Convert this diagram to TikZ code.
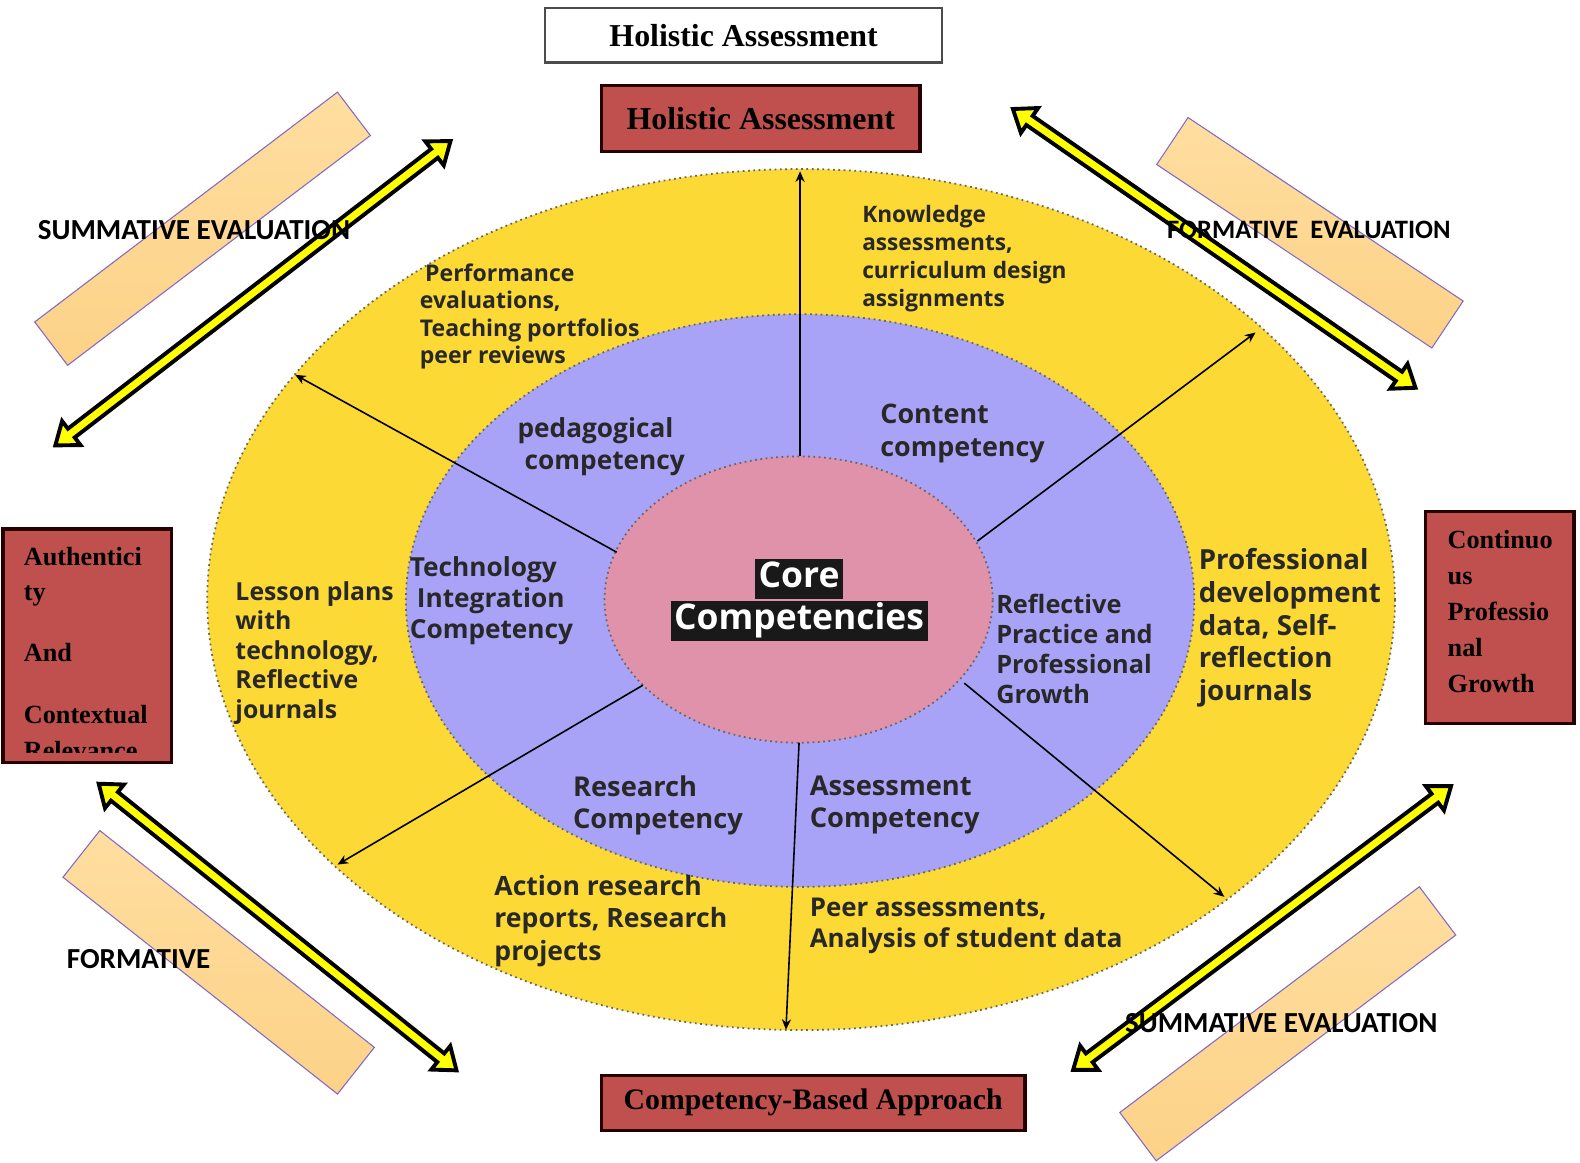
\documentclass[tikz,border=0pt]{standalone}
\usepackage{fontspec}
\setmainfont{Liberation Serif}
\newfontfamily\osans{Open Sans}
\newfontfamily\calib{Carlito}
\usetikzlibrary{shapes.geometric,positioning,arrows.meta}

\definecolor{ringyellow}{RGB}{252,217,52}
\definecolor{ringblue}{RGB}{169,163,248}
\definecolor{ringpink}{RGB}{225,146,171}
\definecolor{boxred}{RGB}{192,80,77}
\definecolor{barlight}{RGB}{255,222,160}
\definecolor{bardark}{RGB}{252,210,135}
\definecolor{barline}{RGB}{130,105,200}
\definecolor{arrowyellow}{RGB}{255,255,0}
\definecolor{inktext}{RGB}{40,40,40}

\tikzset{
  ring/.style={ellipse, inner sep=0pt, draw=black!60, densely dotted, line width=0.5pt},
  redbox/.style={draw=black!85!red, line width=0.9pt, fill=boxred, inner sep=0pt},
  bar/.style={draw=barline, line width=0.3pt, top color=barlight, bottom color=bardark, inner sep=0pt},
  spoke/.style={line width=0.45pt, -{Stealth[length=3pt,width=2.6pt]}},
  ringtext/.style 2 args={anchor=west, align=left, inner sep=0pt, text=inktext,
    font=\osans\bfseries\fontsize{#1}{#2}\selectfont},
  evaltext/.style={inner sep=0pt, font=\calib\bfseries\fontsize{#1}{10}\selectfont},
  boxtext/.style={anchor=north west, align=left, inner sep=0pt, font=\bfseries\fontsize{7.4}{10.1}\selectfont},
  coretext/.style={fill=black!90, text=white, inner xsep=1pt, inner ysep=0.8pt,
    text height=7.4pt, text depth=2.4pt, font=\osans\bfseries\fontsize{10}{12}\selectfont}
}

% Doppelpfeil: Mitte x, Mitte y, Winkel, halbe Laenge
\newcommand{\dblarrow}[4]{%
  \begin{scope}[shift={(#1,#2)}, rotate=#3]
    \draw[line width=1.1pt, fill=arrowyellow, line join=miter]
      (-#4,0) -- (-#4+20,15) -- (-#4+20,5.5) -- (#4-20,5.5) -- (#4-20,15) -- (#4,0)
      -- (#4-20,-15) -- (#4-20,-5.5) -- (-#4+20,-5.5) -- (-#4+20,-15) -- cycle;
  \end{scope}}

\begin{document}
\begin{tikzpicture}[x=0.01cm, y=-0.01cm]
\useasboundingbox (0,0) rectangle (1568,1154);

% Ringe
\node[ring, fill=ringyellow, minimum width=11.78cm, minimum height=8.54cm] (outer) at (795,595) {};
\node[ring, fill=ringblue, minimum width=7.82cm, minimum height=5.68cm] (middle) at (794,596) {};
\node[ring, fill=ringpink, minimum width=3.85cm, minimum height=2.84cm] (inner) at (792.5,595) {};

% Speichen
\foreach \n/\xa/\ya/\xb/\yb in {t/794/453/794/170, ul/612/548/293/372, ur/970/537/1246/330,
    ll/638/680/335/858, b/793/737/780/1022, lr/957/678/1215/890}{
  \coordinate (from\n) at (\xa,\ya);
  \coordinate (to\n) at (\xb,\yb);
  \draw[spoke] (from\n) -- (to\n);
}

% Kern
\node[coretext] (corelow) at (793,616) {Competencies};
\node[coretext, above=0pt of corelow] (coretop) {Core};

% innerer Ring
\node[ringtext={7.4}{9.1}] (pedag) at (513,443) {pedagogical\\\hspace{2pt}competency};
\node[ringtext={7.6}{9.4}] (content) at (873,430) {Content\\competency};
\node[ringtext={7.4}{8.8}] (techn) at (406,596) {Technology\\\hspace{2pt}Integration\\Competency};
\node[ringtext={7.15}{8.45}] (reflect) at (988,644) {Reflective\\Practice and\\Professional\\Growth};
\node[ringtext={7.7}{9.1}] (research) at (568,799) {Research\\Competency};
\node[ringtext={7.7}{9.1}] (assess) at (803,799) {Assessment\\Competency};

% aeusserer Ring
\node[ringtext={6.5}{7.7}] (perf) at (416,314) {\hspace{1.5pt}Performance\\evaluations,\\Teaching portfolios\\peer reviews};
\node[ringtext={6.4}{7.9}] (know) at (855,257) {Knowledge\\assessments,\\curriculum design\\assignments};
\node[ringtext={7.0}{8.3}] (lesson) at (233,648) {Lesson plans\\with\\technology,\\Reflective\\journals};
\node[ringtext={7.8}{9.25}] (profdev) at (1189,623) {Professional\\development\\data, Self-\\reflection\\journals};
\node[ringtext={7.5}{9.1}] (action) at (490,914) {Action research\\reports, Research\\projects};
\node[ringtext={7.3}{8.8}] (peer) at (803,919) {Peer assessments,\\Analysis of student data};

% Balken
\node[bar, rotate=37.2, minimum width=3.77cm, minimum height=0.54cm] (barTL) at (201,227) {};
\node[bar, rotate=-33.7, minimum width=3.28cm, minimum height=0.56cm] (barTR) at (1300,231) {};
\node[bar, rotate=-38.3, minimum width=3.47cm, minimum height=0.59cm] (barBL) at (217,955) {};
\node[bar, rotate=37, minimum width=3.72cm, minimum height=0.6cm] (barBR) at (1278,1016) {};

% Pfeile
\dblarrow{251}{291}{37.6}{247.5}
\dblarrow{1205}{246.5}{-34.7}{243}
\dblarrow{275.5}{920}{-38.7}{227.5}
\dblarrow{1252.5}{921}{36.9}{234.5}

% Beschriftungen
\node[evaltext=8.2] (sumTL) at (192.5,228) {SUMMATIVE EVALUATION};
\node[evaltext=7.5] (formTR) at (1299,228) {FORMATIVE\ \ EVALUATION};
\node[evaltext=8.2] (formBL) at (137.5,952) {FORMATIVE};
\node[evaltext=8.2] (sumBR) at (1271.5,1015) {SUMMATIVE EVALUATION};

% Kaesten
\node[draw=black!70, line width=0.6pt, minimum width=3.94cm, minimum height=0.54cm, inner sep=0pt,
  font=\bfseries\fontsize{9}{11}\selectfont] (titlebox) at (738,35) {Holistic Assessment};
\node[redbox, minimum width=3.16cm, minimum height=0.65cm,
  font=\bfseries\fontsize{9}{11}\selectfont] (holistic) at (755,117.5) {Holistic Assessment};
\node[redbox, minimum width=4.2cm, minimum height=0.55cm,
  font=\bfseries\fontsize{8.4}{10}\selectfont] (approach) at (807,1094.5) {Competency-Based Approach};

\node[redbox, minimum width=1.67cm, minimum height=2.32cm] (authbox) at (86.5,641) {};
\begin{scope}
  \clip (authbox.north west) rectangle ([yshift=0.12cm]authbox.south east);
  \node[boxtext] (authtext) at (23,542) {Authentici\\ty\\[7pt]And\\[7.4pt]Contextual\\Relevance};
\end{scope}

\node[redbox, minimum width=1.47cm, minimum height=2.1cm] (growthbox) at (1488.5,613) {};
\node[boxtext] (growthtext) at (1436,526) {Continuo\\us\\Professio\\nal\\Growth};

\end{tikzpicture}
\end{document}
